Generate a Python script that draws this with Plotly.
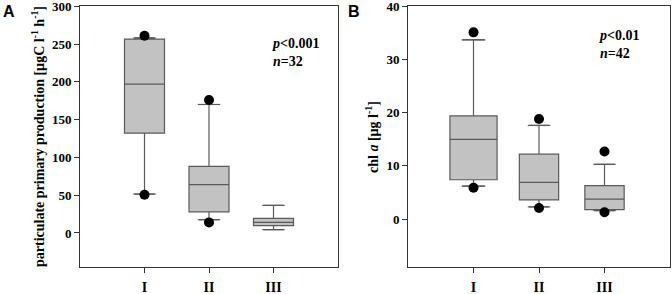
import plotly.graph_objects as go

categories = ["I", "II", "III"]

# Panel A: particulate primary production
a_q1 = [132, 28, 9.7]
a_median = [197, 64, 14]
a_q3 = [256.6, 88, 19.4]
a_low = [51.5, 17.6, 4.4]
a_high = [258, 170, 36.5]
a_out_x = ["I", "I", "II", "II"]
a_out_y = [261, 50.5, 176, 14]

# Panel B: chl a
b_q1 = [7.4, 3.6, 1.8]
b_median = [15, 6.9, 3.75]
b_q3 = [19.4, 12.2, 6.3]
b_low = [6.2, 2.3, 1.6]
b_high = [33.7, 17.6, 10.3]
b_out_x = ["I", "I", "II", "II", "III", "III"]
b_out_y = [35.1, 5.9, 18.8, 2.1, 12.7, 1.3]

a_widths = [0.62, 0.62, 0.62]
b_widths = [0.72, 0.6, 0.6]

FILL = "#c2c2c2"
LINE = "#5a5a5a"
SERIF = "Liberation Serif"

fig = go.Figure()

def add_panel(xa, ya, q1, med, q3, lo, hi, ox, oy, widths):
    for i, c in enumerate(categories):
        fig.add_trace(go.Box(
            x=[c], q1=[q1[i]], median=[med[i]], q3=[q3[i]],
            lowerfence=[lo[i]], upperfence=[hi[i]],
            fillcolor=FILL, line=dict(color=LINE, width=1.2),
            width=widths[i], boxpoints=False, showlegend=False,
            xaxis=xa, yaxis=ya, hoverinfo="skip"))
    # whisker caps
    fig.add_trace(go.Scatter(
        x=categories + categories, y=list(lo) + list(hi), mode="markers",
        marker=dict(symbol="line-ew", size=16, line=dict(color=LINE, width=1.2)),
        showlegend=False, xaxis=xa, yaxis=ya, hoverinfo="skip"))
    fig.add_trace(go.Scatter(
        x=ox, y=oy, mode="markers",
        marker=dict(symbol="circle", size=10, color="black"),
        showlegend=False, xaxis=xa, yaxis=ya, hoverinfo="skip"))

add_panel("x", "y", a_q1, a_median, a_q3, a_low, a_high, a_out_x, a_out_y, a_widths)
add_panel("x2", "y2", b_q1, b_median, b_q3, b_low, b_high, b_out_x, b_out_y, b_widths)

tickfont = dict(family=SERIF, size=13, color="black", weight="bold")
common_x = dict(type="category", categoryorder="array", categoryarray=categories,
                range=[-1, 3], showline=True, mirror=True, linecolor="#333", linewidth=1,
                ticks="outside", ticklen=5, tickcolor="#333", showgrid=False, zeroline=False,
                tickfont=dict(family=SERIF, size=14, color="black", weight="bold"),
                ticklabelstandoff=2, automargin=False, ticklabeloverflow="allow")
common_y = dict(showline=True, mirror=True, linecolor="#333", linewidth=1,
                ticks="outside", ticklen=5, tickcolor="#333", showgrid=False, zeroline=False,
                tickfont=tickfont, automargin=False, ticklabeloverflow="allow")

fig.update_layout(
    width=672, height=294, margin=dict(l=0, r=0, t=0, b=0),
    paper_bgcolor="white", plot_bgcolor="white",
    xaxis=dict(domain=[80/672, 338/672], anchor="y", **common_x),
    yaxis=dict(domain=[1-267/294, 1-6/294], anchor="x", range=[-45, 300.3],
               tickvals=[0, 50, 100, 150, 200, 250, 300], **common_y),
    xaxis2=dict(domain=[408/672, 670/672], anchor="y2", **common_x),
    yaxis2=dict(domain=[1-267/294, 1-6/294], anchor="x2", range=[-9, 40.05],
                tickvals=[0, 10, 20, 30, 40], **common_y),
)

title_font = dict(family=SERIF, size=14, color="black", weight="bold")
fig.add_annotation(text="particulate primary production [µgC l<sup>-1</sup> h<sup>-1</sup>]",
                   x=38/672, y=1-137/294, xref="paper", yref="paper", textangle=-90,
                   xanchor="center", yanchor="middle", showarrow=False, font=title_font)
fig.add_annotation(text="chl <i>a</i> [µg l<sup>-1</sup>]",
                   x=372/672, y=1-137/294, xref="paper", yref="paper", textangle=-90,
                   xanchor="center", yanchor="middle", showarrow=False, font=title_font)

ann_font = dict(family=SERIF, size=14, color="black", weight="bold")
fig.add_annotation(text="<i>p</i><0.001<br><i>n</i>=32", x=270/672, y=1-34/294,
                   xref="paper", yref="paper", xanchor="left", yanchor="top",
                   showarrow=False, align="left", font=ann_font)
fig.add_annotation(text="<i>p</i><0.01<br><i>n</i>=42", x=597/672, y=1-26/294,
                   xref="paper", yref="paper", xanchor="left", yanchor="top",
                   showarrow=False, align="left", font=ann_font)
lab_font = dict(family="Liberation Sans", size=16, color="black", weight="bold")
fig.add_annotation(text="A", x=1/672, y=1-1/294, xref="paper", yref="paper",
                   xanchor="left", yanchor="top", showarrow=False, font=lab_font)
fig.add_annotation(text="B", x=346/672, y=1-1/294, xref="paper", yref="paper",
                   xanchor="left", yanchor="top", showarrow=False, font=lab_font)

fig.write_html("out.html", config={"displayModeBar": False},
               post_script="document.body.style.margin='0';document.body.style.overflow='hidden';")
